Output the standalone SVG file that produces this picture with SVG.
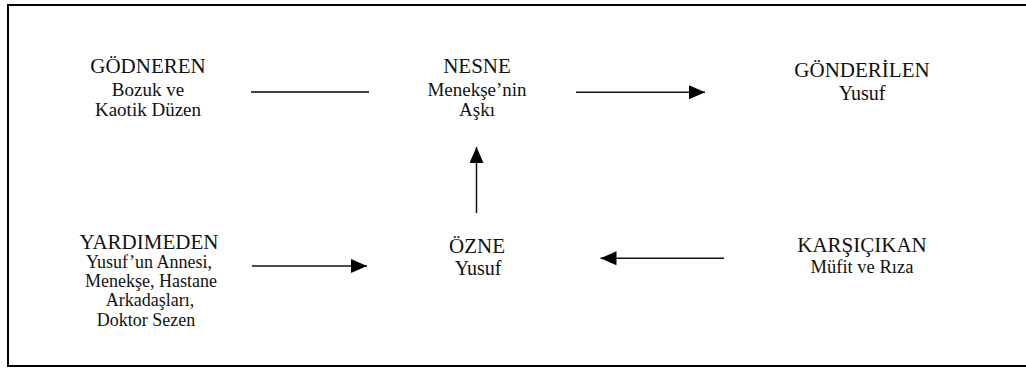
<svg xmlns="http://www.w3.org/2000/svg" width="1026" height="369" viewBox="0 0 1026 369">
<style>
text{font-family:"Liberation Serif","Times New Roman",serif;fill:#111;text-anchor:middle}
.t{font-size:21px}
.s{font-size:19px}
.m{font-size:18px}
.ln{stroke:#111;stroke-width:1.5;fill:none}
.gl{stroke:#444;stroke-width:2;fill:none}
</style>
<defs>
<marker id="ah" markerUnits="userSpaceOnUse" markerWidth="16" markerHeight="14" refX="16" refY="7" orient="auto">
<path d="M0,0 L16,7 L0,14 Z" fill="#000"/>
</marker>
</defs>
<rect x="8" y="5" width="1030" height="361" fill="#fff" stroke="#000" stroke-width="2"/>
<g id="gonderen">
<text class="t" x="148" y="73">GÖDNEREN</text>
<text class="s" x="148" y="96">Bozuk ve</text>
<text class="s" x="148" y="116">Kaotik Düzen</text>
</g>
<g id="nesne">
<text class="t" x="477" y="73">NESNE</text>
<text class="s" x="477" y="96">Menekşe’nin</text>
<text class="s" x="477" y="116">Aşkı</text>
</g>
<g id="gonderilen">
<text class="t" x="862" y="77">GÖNDERİLEN</text>
<text class="s" x="862" y="100" style="font-size:20px">Yusuf</text>
</g>
<g id="yardimeden">
<text class="t" x="149" y="248.5">YARDIMEDEN</text>
<text class="m" x="149" y="268">Yusuf’un Annesi,</text>
<text class="m" x="151" y="287">Menekşe, Hastane</text>
<text class="m" x="150" y="306">Arkadaşları,</text>
<text class="m" x="146" y="325.5">Doktor Sezen</text>
</g>
<g id="ozne">
<text class="t" x="477" y="253">ÖZNE</text>
<text class="s" x="478" y="275" style="font-size:20px">Yusuf</text>
</g>
<g id="karsicikan">
<text class="t" x="862" y="252">KARŞIÇIKAN</text>
<text class="s" x="862" y="273" style="font-size:18.5px">Müfit ve Rıza</text>
</g>
<g id="connectors">
<line class="gl" x1="251" y1="92" x2="369" y2="92"/>
<line class="ln" x1="576" y1="92.3" x2="705" y2="92.3" marker-end="url(#ah)"/>
<line class="ln" x1="476.5" y1="213" x2="476.5" y2="147" marker-end="url(#ah)"/>
<line class="ln" x1="252" y1="266" x2="367" y2="266" marker-end="url(#ah)"/>
<line class="ln" x1="724" y1="258.3" x2="600.5" y2="258.3" marker-end="url(#ah)"/>
</g>
</svg>
